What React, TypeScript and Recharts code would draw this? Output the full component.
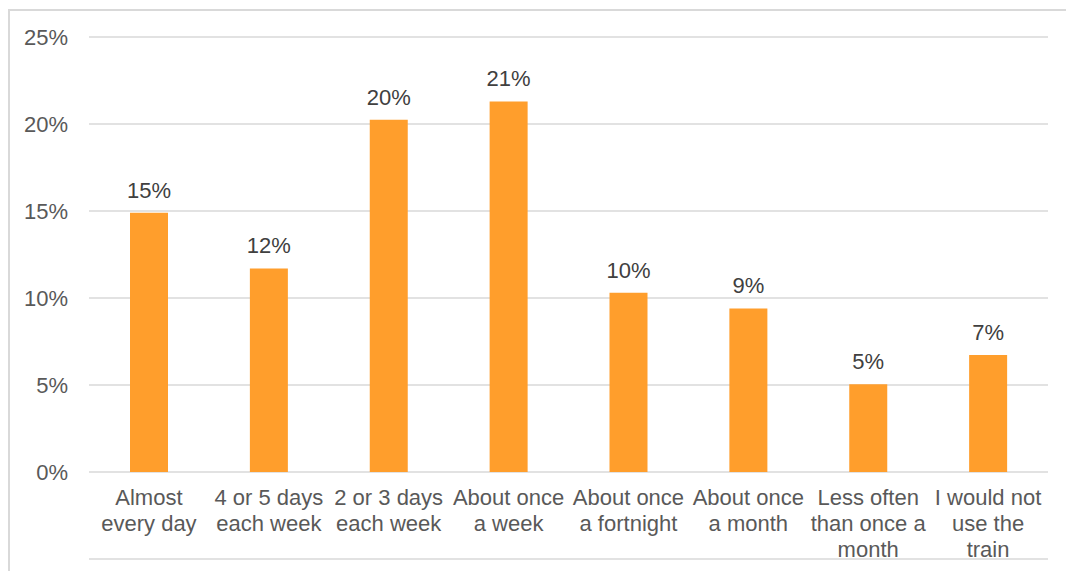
import React from "react";
import { BarChart, Bar, XAxis, YAxis, CartesianGrid, LabelList } from "recharts";

const categories = [
  "Almost\nevery day",
  "4 or 5 days\neach week",
  "2 or 3 days\neach week",
  "About once\na week",
  "About once\na fortnight",
  "About once\na month",
  "Less often\nthan once a\nmonth",
  "I would not\nuse the\ntrain",
];
const shares = [14.9, 11.7, 20.25, 21.3, 10.3, 9.4, 5.05, 6.73];
const yTicks = [0, 5, 10, 15, 20, 25];
const boundaryTicks = [0, 1, 2, 3, 4, 5, 6, 7, 8];

const data = categories.map((name, i) => ({ name, value: shares[i] }));

const FONT = "'Liberation Sans', Arial, sans-serif";

const CatTick = (props: any) => {
  const { x, y, payload } = props;
  const lines = String(payload.value).split("\n");
  return (
    <text x={x} y={y} textAnchor="middle" fill="#595959" fontSize={22} fontFamily={FONT}>
      {lines.map((l, i) => (
        <tspan key={i} x={x} dy={i === 0 ? 33 : 26}>
          {l}
        </tspan>
      ))}
    </text>
  );
};

export default function App() {
  return (
    <div
      style={{
        position: "fixed",
        left: 8,
        top: 9,
        width: 1056,
        height: 560,
        overflow: "hidden",
        borderLeft: "2px solid #D9D9D9",
        borderTop: "2px solid #D9D9D9",
        background: "#ffffff",
      }}
    >
      <BarChart
        width={1056}
        height={554}
        data={data}
        accessibilityLayer={false}
        style={{ outline: "none" }}
        margin={{ top: 26, right: 18, bottom: 0, left: -2 }}
      >
        <CartesianGrid vertical={false} stroke="#D9D9D9" strokeWidth={1.5} xAxisId="cat" yAxisId="y" />
        <XAxis
          xAxisId="grid"
          type="number"
          domain={[0, 8]}
          ticks={boundaryTicks}
          tick={false}
          height={6}
          tickSize={6}
          axisLine={{ stroke: "#D9D9D9", strokeWidth: 1.5 }}
          tickLine={{ stroke: "#D9D9D9", strokeWidth: 1.5 }}
          allowDataOverflow
        />
        <XAxis
          xAxisId="cat"
          dataKey="name"
          interval={0}
          axisLine={false}
          tickLine={false}
          tickSize={0}
          tickMargin={0}
          height={87}
          tick={<CatTick />}
        />
        <YAxis
          yAxisId="y"
          domain={[0, 25]}
          ticks={yTicks}
          width={81}
          axisLine={false}
          tickLine={false}
          tickSize={0}
          tickMargin={21}
          tickFormatter={(v: number) => `${v}%`}
          tick={{ fill: "#595959", fontSize: 22, fontFamily: FONT }}
        />
        <Bar dataKey="value" xAxisId="cat" yAxisId="y" fill="#FF9E2C" barSize={38} isAnimationActive={false}>
          <LabelList
            dataKey="value"
            position="top"
            offset={15}
            formatter={(v: any) => `${Math.round(Number(v))}%`}
            fill="#404040"
            fontSize={22}
            fontFamily={FONT}
          />
        </Bar>
      </BarChart>
    </div>
  );
}
